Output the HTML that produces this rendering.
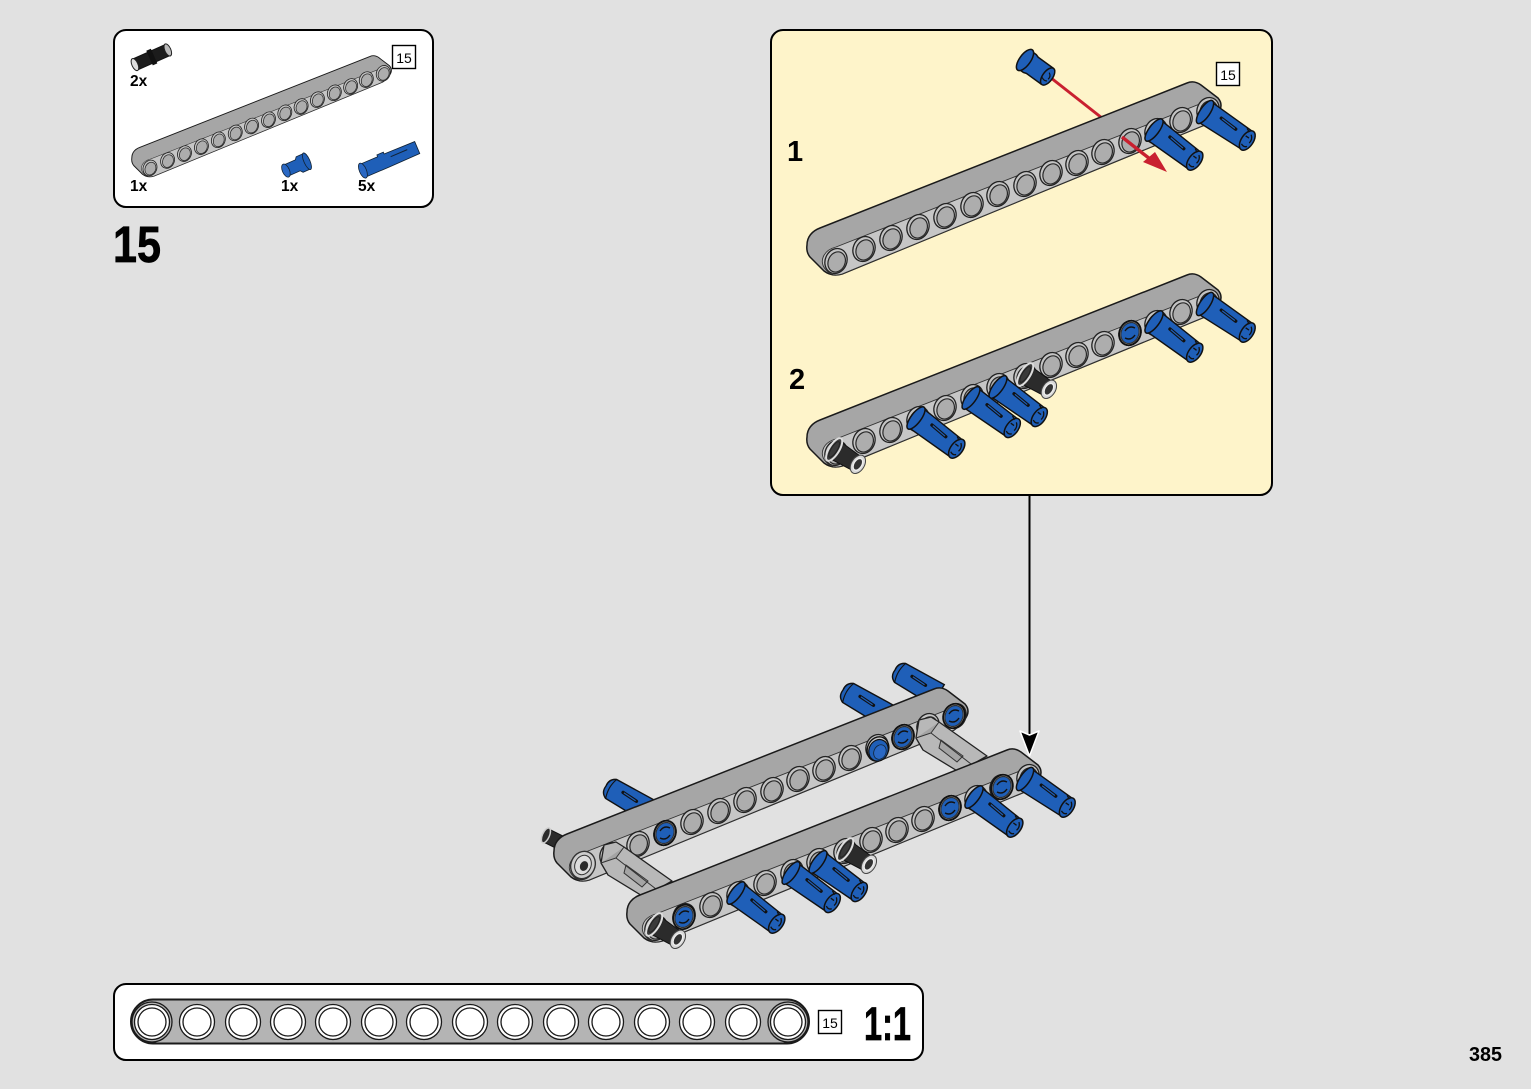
<!DOCTYPE html>
<html><head><meta charset="utf-8"><style>
html,body{margin:0;padding:0;background:#e1e1e1}
svg{display:block}
text{font-family:"Liberation Sans",sans-serif;fill:#000}
.b{font-weight:bold}
.h{stroke:#000;stroke-width:.7px}
</style></head><body>
<svg width="1531" height="1089" viewBox="0 0 1531 1089" xmlns="http://www.w3.org/2000/svg">
<defs>
<g id="h">
  <ellipse rx="10.8" ry="12.8" transform="rotate(24)" fill="#c4c4c4" stroke="#222" stroke-width="1.3"/>
  <ellipse cx="1" cy=".6" rx="8.4" ry="10.4" transform="rotate(24)" fill="#adadad" stroke="#2a2a2a" stroke-width="1.2"/>
</g>
<g id="beam">
  <path d="M-29,-16C-29,-24 -24,-30 -16,-33L351,-178Q358,-181 365,-176L382,-163Q388,-156 382,-148Q378,-142 371,-137L6,13Q-4,16 -12,10L-26,-4Q-30,-9 -29,-16Z" fill="#a6a6a6" stroke="#1a1a1a" stroke-width="1.5" stroke-linejoin="round"/>
  <path d="M0,-14L374,-161Q384,-158 381,-148L371,-137L6,13Q-4,16 -10,9C-18,0 -12,-11 0,-14Z" fill="#c6c6c6" stroke="#333" stroke-width=".9"/>
  <use href="#h"/><use href="#h" x="28" y="-12"/><use href="#h" x="55" y="-23"/><use href="#h" x="82" y="-34"/><use href="#h" x="109" y="-45"/><use href="#h" x="136" y="-56"/><use href="#h" x="162" y="-67"/><use href="#h" x="189" y="-77"/><use href="#h" x="215" y="-88"/><use href="#h" x="241" y="-98"/><use href="#h" x="267" y="-109"/><use href="#h" x="294" y="-120"/><use href="#h" x="320" y="-130"/><use href="#h" x="345" y="-141"/><use href="#h" x="372" y="-151"/>
</g>
<g id="pl">
  <path d="M0,-12L50,-10.5L50,10.500L0,12Z" fill="#1f5fb8" stroke="#111" stroke-width="1.4"/>
  <ellipse cx="0" rx="5" ry="13.5" fill="#1f5fb8" stroke="#111" stroke-width="1.5"/>
  <path d="M17,-4L35,-3" stroke="#111" stroke-width="3.4" stroke-linecap="round"/>
  <path d="M18,-4L34,-3" stroke="#1f5fb8" stroke-width="1.2"/>
  <ellipse cx="51" rx="6" ry="11" fill="#1f5fb8" stroke="#111" stroke-width="1.5"/>
  <path d="M51,-7Q55,-4 54,1M48,6Q52,8 54,5M44,-10L48,-8M47,-3L51,-3" fill="none" stroke="#111" stroke-width="1.3"/>
</g>
<g id="pb">
  <path d="M6,-11L50,-12L50,12L6,11Q-1,8 0,0Q-1,-8 6,-11Z" fill="#1f5fb8" stroke="#111" stroke-width="1.4"/>
  <path d="M6,-11Q2,0 6,11" fill="none" stroke="#111" stroke-width="1.1"/>
  <path d="M18,-3L34,-2" stroke="#111" stroke-width="3.4" stroke-linecap="round"/>
  <path d="M19,-3L33,-2" stroke="#1f5fb8" stroke-width="1.2"/>
</g>
<g id="pk">
  <path d="M0,-10L27,-8L27,8L0,10Z" fill="#2b2b2b" stroke="#111" stroke-width="1"/>
  <ellipse cx="-1" rx="5" ry="13" fill="#3a3a3a" stroke="#ddd" stroke-width="2"/>
  <ellipse cx="-1" rx="3" ry="9" fill="none" stroke="#222" stroke-width="1"/>
  <ellipse cx="27" rx="6.5" ry="10" fill="#d8d8d8" stroke="#444" stroke-width="1"/>
  <ellipse cx="27" rx="4" ry="6.5" fill="#333" stroke="#eee" stroke-width="1.4"/>
</g>
<g id="hb">
  <ellipse rx="10.5" ry="12.5" transform="rotate(24)" fill="#c8c8c8" stroke="#111" stroke-width="1.8"/>
  <ellipse rx="8.8" ry="10.8" transform="rotate(24)" fill="#1f5fb8" stroke="#333" stroke-width="1.2"/>
  <path d="M-5,-2Q-1,-8 5,-5M5,2Q1,8 -5,5" fill="none" stroke="#111" stroke-width="1.4"/>
</g>
<g id="hh">
  <ellipse rx="10.5" ry="12.5" transform="rotate(24)" fill="#c8c8c8" stroke="#111" stroke-width="1.4"/>
  <ellipse cx="1" cy="1" rx="9.5" ry="11" transform="rotate(24)" fill="#1f5fb8" stroke="#111" stroke-width="1.2"/>
  <ellipse cx="3" cy="2" rx="6" ry="7.5" transform="rotate(24)" fill="#2a68c4" stroke="#123" stroke-width="0.8"/>
</g>
<g id="a2">
  <use href="#beam" transform="translate(836,453)"/>
  <use href="#hb" x="1130" y="333"/>
  <use href="#pk" transform="translate(1026,375) rotate(32)"/>
  <use href="#pl" transform="translate(1205,304) rotate(34)"/>
  <use href="#pl" transform="translate(1154,322) rotate(37)"/>
  <use href="#pl" transform="translate(998,387) rotate(36)"/>
  <use href="#pl" transform="translate(971,398) rotate(36)"/>
  <use href="#pl" transform="translate(916,418) rotate(37)"/>
  <use href="#pk" transform="translate(835,450) rotate(32)"/>
</g>
<g id="conn">
  <path d="M0,0L12,-3L20,2L68,36L40,52L4,30L-3,18Z" fill="#b8b8b8" stroke="#222" stroke-width="1.300" stroke-linejoin="round"/>
  <path d="M-3,18L12,13L20,2M12,13L52,44M22,20L44,36L38,42L20,28Z" fill="#a4a4a4" stroke="#333" stroke-width="1"/>
</g>
</defs>

<rect width="1531" height="1089" fill="#e1e1e1"/>

<!-- parts box -->
<rect x="114" y="30" width="319" height="177" rx="12" fill="#fff" stroke="#000" stroke-width="2"/>
<rect x="392.500" y="45.500" width="23" height="23" fill="#fff" stroke="#000" stroke-width="1.4"/>
<text x="404" y="63" font-size="14" text-anchor="middle">15</text>
<use href="#beam" transform="translate(150,168) scale(.627)"/>
<g transform="translate(134,65) rotate(-24)">
  <path d="M0,-6L36,-6L36,6L0,6Z" fill="#1c1c1c" stroke="#111"/>
  <path d="M17,-8L22,-8L22,8L17,8Z" fill="#111"/>
  <ellipse cx="1" rx="3" ry="6.500" fill="#ddd" stroke="#222"/>
  <ellipse cx="37" rx="3" ry="6.500" fill="#bbb" stroke="#222"/>
</g>
<text class="b" x="130" y="86" font-size="15.500">2x</text>
<text class="b" x="130" y="191" font-size="15.500">1x</text>
<g transform="translate(285,171) rotate(-24)">
  <path d="M0,-6L14,-6L16,-8.500L24,-8.500L24,8.500L16,8.500L14,6L0,6Z" fill="#1f5fb8" stroke="#123" stroke-width=".8"/>
  <ellipse cx="24" rx="3" ry="9" fill="#1f5fb8" stroke="#123" stroke-width=".8"/>
  <ellipse cx="1" rx="3.500" ry="7" fill="#2a68c4" stroke="#123" stroke-width=".8"/>
</g>
<text class="b" x="281" y="191" font-size="15.500">1x</text>
<g transform="translate(362,171) rotate(-23)">
  <path d="M0,-7L20,-7L20,-9L27,-9L27,-7L60,-6.500L60,6.500L27,7L0,7Z" fill="#1f5fb8" stroke="#123" stroke-width=".8"/>
  <ellipse cx="1" rx="3.500" ry="8" fill="#2a68c4" stroke="#123" stroke-width=".8"/>
  <path d="M32,-2L50,-2" stroke="#123" stroke-width="1"/>
</g>
<text class="b" x="358" y="191" font-size="15.500">5x</text>

<text class="b h" x="113" y="262" font-size="51" textLength="48" lengthAdjust="spacingAndGlyphs">15</text>

<!-- yellow panel -->
<rect x="771" y="30" width="501" height="465" rx="12" fill="#fef4ca" stroke="#000" stroke-width="2"/>
<rect x="1216.500" y="62.500" width="23" height="23" fill="#fff" stroke="#000" stroke-width="1.4"/>
<text x="1228" y="80" font-size="14" text-anchor="middle">15</text>
<text class="b" x="787" y="161" font-size="29">1</text>
<text class="b" x="789" y="389" font-size="29">2</text>

<!-- step 1 -->
<path d="M1046,74L1102,118" stroke="#c9202f" stroke-width="3"/>
<use href="#beam" transform="translate(836,261)"/>
<use href="#pl" transform="translate(1205,112) rotate(34)"/>
<use href="#pl" transform="translate(1154,130) rotate(37)"/>
<path d="M1122,137L1150,159" stroke="#c9202f" stroke-width="3.400"/>
<path d="M1167,172L1143,162L1155,152Z" fill="#c9202f"/>
<g transform="translate(1025,60) rotate(36)">
  <path d="M0,-11L6,-11L9,-10L27,-10L27,10L9,10L6,11L0,11Z" fill="#1f5fb8" stroke="#111" stroke-width="1.5"/>
  <ellipse cx="0" rx="5.500" ry="12.500" fill="#1f5fb8" stroke="#111" stroke-width="1.5"/>
  <ellipse cx="28" rx="5" ry="10" fill="#1f5fb8" stroke="#111" stroke-width="1.5"/>
  <path d="M27,-4Q31,-2 30,2M24,4Q28,6 30,4" fill="none" stroke="#111" stroke-width="1.200"/>
</g>

<!-- step 2 -->
<use href="#a2"/>

<!-- arrow -->
<path d="M1029.500,495V738" stroke="#000" stroke-width="2"/>

<!-- main back beam -->
<use href="#pb" transform="translate(895,670) rotate(30)"/>
<use href="#pb" transform="translate(843,690) rotate(30)"/>
<use href="#pb" transform="translate(606,786) rotate(30)"/>
<g transform="translate(545,835) rotate(24)">
  <path d="M2,-7L26,-6L26,8L2,7Z" fill="#2b2b2b" stroke="#111"/>
  <ellipse cx="1" rx="3.500" ry="8" fill="#2b2b2b" stroke="#ccc" stroke-width="1.500"/>
</g>
<use href="#beam" transform="translate(583,867)"/>
<use href="#hb" x="665" y="833"/>
<use href="#hh" x="878" y="749"/>
<use href="#hb" x="903" y="737"/>
<use href="#hb" x="954" y="716"/>
<ellipse cx="583" cy="865" rx="12" ry="14" transform="rotate(24 583 865)" fill="#ccc" stroke="#333" stroke-width="1.400"/>
<ellipse cx="583" cy="865" rx="8" ry="10" transform="rotate(24 583 865)" fill="#ddd" stroke="#333" stroke-width="1"/>
<ellipse cx="584" cy="866" rx="4" ry="5" transform="rotate(24 584 866)" fill="#2b2b2b"/>

<!-- connectors -->
<use href="#conn" transform="translate(604,845)"/>
<use href="#conn" transform="translate(919,720)"/>

<!-- main front beam -->
<use href="#a2" transform="translate(-180,475)"/>
<use href="#hb" x="684" y="917"/>
<use href="#hb" x="1002" y="787"/>

<!-- arrow head -->
<path d="M1020,731L1029.500,735L1039,731L1029.500,756Z" fill="#000" stroke="#fff" stroke-width="1.500" stroke-linejoin="round"/>

<!-- scale box -->
<rect x="114" y="984" width="809" height="76" rx="12" fill="#fff" stroke="#000" stroke-width="2"/>
<rect x="131" y="999.500" width="678" height="44" rx="22" fill="#b4b4b4" stroke="#1a1a1a" stroke-width="2"/>
<g fill="#fff" stroke="#1a1a1a" stroke-width="1.300">
<circle cx="152" cy="1022" r="20" fill="#b4b4b4"/><circle cx="788" cy="1022" r="20" fill="#b4b4b4"/>
<circle cx="152" cy="1022" r="17.500"/><circle cx="152" cy="1022" r="14"/>
<circle cx="197" cy="1022" r="17.500"/><circle cx="197" cy="1022" r="14"/>
<circle cx="243" cy="1022" r="17.500"/><circle cx="243" cy="1022" r="14"/>
<circle cx="288" cy="1022" r="17.500"/><circle cx="288" cy="1022" r="14"/>
<circle cx="333" cy="1022" r="17.500"/><circle cx="333" cy="1022" r="14"/>
<circle cx="379" cy="1022" r="17.500"/><circle cx="379" cy="1022" r="14"/>
<circle cx="424" cy="1022" r="17.500"/><circle cx="424" cy="1022" r="14"/>
<circle cx="470" cy="1022" r="17.500"/><circle cx="470" cy="1022" r="14"/>
<circle cx="515" cy="1022" r="17.500"/><circle cx="515" cy="1022" r="14"/>
<circle cx="561" cy="1022" r="17.500"/><circle cx="561" cy="1022" r="14"/>
<circle cx="606" cy="1022" r="17.500"/><circle cx="606" cy="1022" r="14"/>
<circle cx="652" cy="1022" r="17.500"/><circle cx="652" cy="1022" r="14"/>
<circle cx="697" cy="1022" r="17.500"/><circle cx="697" cy="1022" r="14"/>
<circle cx="743" cy="1022" r="17.500"/><circle cx="743" cy="1022" r="14"/>
<circle cx="788" cy="1022" r="17.500"/><circle cx="788" cy="1022" r="14"/>
</g>
<rect x="818.500" y="1010.500" width="23" height="23" fill="#fff" stroke="#000" stroke-width="1.400"/>
<text x="830" y="1028" font-size="14" text-anchor="middle">15</text>
<text class="b h" x="864" y="1040" font-size="47" textLength="47" lengthAdjust="spacingAndGlyphs">1:1</text>

<text class="b" x="1469" y="1061" font-size="20" textLength="33" lengthAdjust="spacingAndGlyphs">385</text>
</svg>
</body></html>
